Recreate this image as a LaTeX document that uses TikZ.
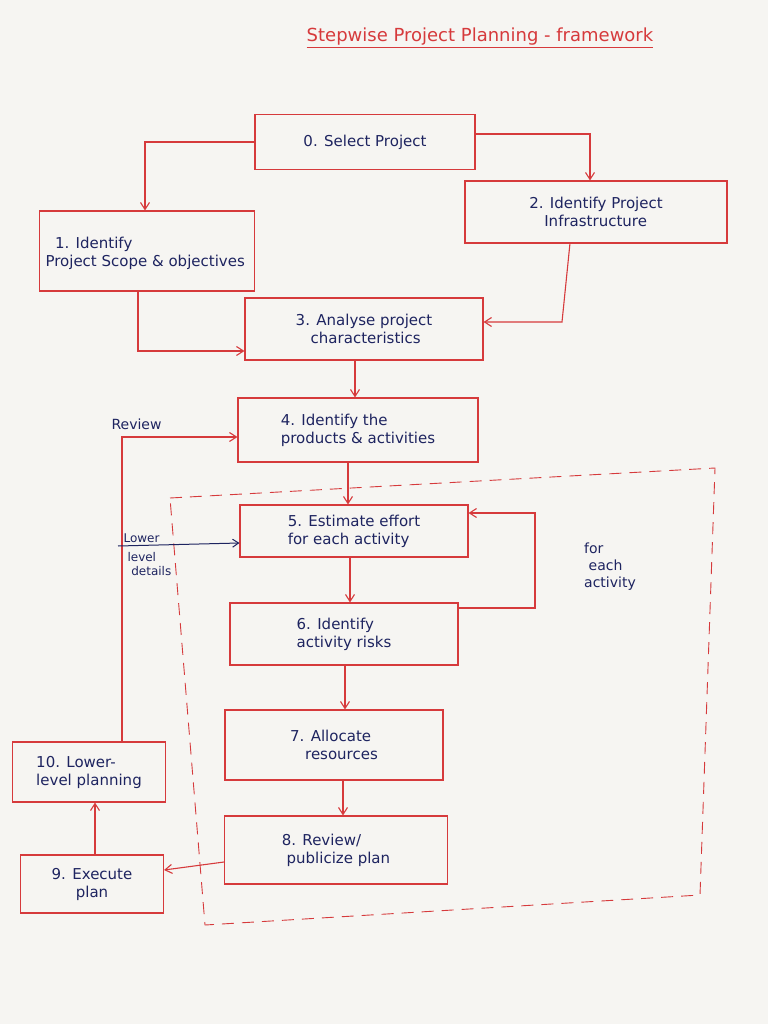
\documentclass[tikz,border=0pt]{standalone}
\usepackage{fontspec}
\setmainfont{DejaVu Sans}
\usetikzlibrary{arrows.meta}
\definecolor{pen}{HTML}{D63A3C}
\definecolor{ink}{HTML}{1E2460}
\definecolor{paper}{HTML}{F6F5F2}
\tikzset{
  stepbox/.style={draw=pen, line width=1.1pt, text=ink, align=left, inner sep=3pt, font=\fontsize{15}{18}\selectfont},
  flow/.style={draw=pen, line width=1.1pt, -{Straight Barb[length=7pt,width=9pt]}},
  bflow/.style={draw=ink, line width=1pt, -{Straight Barb[length=6pt,width=8pt]}},
  note/.style={text=ink, font=\fontsize{14}{17}\selectfont, align=left},
}
\begin{document}
\begin{tikzpicture}[x=1pt,y=-1pt]
\fill[paper] (0,0) rectangle (768,1024);
\useasboundingbox (0,0) rectangle (768,1024);
\node[text=pen, font=\fontsize{18}{20}\selectfont] (title) at (480,38) {\underline{Stepwise Project Planning - framework}};
\draw[pen, line width=0.9pt, dashed, dash pattern=on 12pt off 8pt] (170,498) -- (715,468) -- (700,895) -- (205,925) -- cycle;
\node[stepbox, minimum width=220pt, minimum height=55pt, align=center] (n0) at (365,142) {0. Select Project};
\node[stepbox, minimum width=215pt, minimum height=80pt, inner sep=0pt] (n1) at (147,251) {};
\node[text=ink, font=\fontsize{15}{18}\selectfont, align=left, anchor=west] (t1) at (42,253) {\ \ 1. Identify\\Project Scope \& objectives};
\node[stepbox, minimum width=262pt, minimum height=62pt] (n2) at (596,212) {2. Identify Project\\\quad Infrastructure};
\node[stepbox, minimum width=238pt, minimum height=62pt] (n3) at (364,329) {3. Analyse project\\\quad characteristics};
\node[stepbox, minimum width=240pt, minimum height=64pt] (n4) at (358,430) {4. Identify the\\products \& activities};
\node[stepbox, minimum width=228pt, minimum height=52pt] (n5) at (354,531) {5. Estimate effort\\for each activity};
\node[stepbox, minimum width=228pt, minimum height=62pt] (n6) at (344,634) {6. Identify\\activity risks};
\node[stepbox, minimum width=218pt, minimum height=70pt] (n7) at (334,745) {7. Allocate\\\quad resources};
\node[stepbox, minimum width=223pt, minimum height=68pt] (n8) at (336,850) {8. Review/\\\ publicize plan};
\node[stepbox, minimum width=143pt, minimum height=58pt, align=center] (n9) at (92,884) {9. Execute\\plan};
\node[stepbox, minimum width=153pt, minimum height=60pt] (n10) at (89,772) {10. Lower-\\level planning};
\draw[flow] (n0.west) -- (145,142) -- (n1.north -| 145,0);
\draw[flow] (n0.east) ++(0,-8) -- (590,134) -- (n2.north -| 590,0);
\draw[flow] (n1.south -| 138,0) -- (138,351) -- (n3.west |- 0,351);
\draw[flow] (570,243) -- (562,322) -- (n3.east |- 0,322);
\draw[flow] (n3.south -| 355,0) -- (n4.north -| 355,0);
\draw[flow] (n4.south -| 348,0) -- (n5.north -| 348,0);
\draw[flow] (n5.south -| 350,0) -- (n6.north -| 350,0);
\draw[flow] (n6.east |- 0,608) -- (535,608) -- (535,513) -- (n5.east |- 0,513);
\draw[flow] (n6.south -| 345,0) -- (n7.north -| 345,0);
\draw[flow] (n7.south -| 343,0) -- (n8.north -| 343,0);
\draw[flow] (n8.west |- 0,862) -- (n9.east |- 0,870);
\draw[flow] (n9.north -| 95,0) -- (n10.south -| 95,0);
\draw[flow] (n10.north -| 122,0) -- (122,437) -- (n4.west |- 0,437);
\coordinate (ld) at (118,546);
\draw[bflow] (ld) -- (n5.west |- 0,543);
\node[note, anchor=south west] (rev) at (108,433) {Review};
\node[note, anchor=south west, font=\fontsize{12}{13}\selectfont] (lw) at (120,546) {Lower};
\node[note, anchor=north west, font=\fontsize{12}{14}\selectfont] (ldt) at (124,549) {level\\\ details};
\node[note] (fea) at (610,567) {for\\\ each\\activity};
\end{tikzpicture}
\end{document}
